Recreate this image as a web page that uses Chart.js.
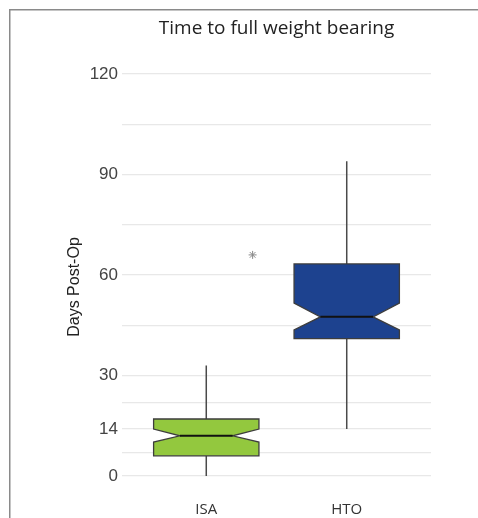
<!DOCTYPE html>
<html><head><meta charset="utf-8">
<script src="https://cdn.jsdelivr.net/npm/chart.js@4.4.1/dist/chart.umd.min.js"></script>
<style>
html,body{margin:0;padding:0;background:#fff;overflow:hidden;}
canvas{display:block;}
</style></head><body>
<canvas id="c" width="478" height="518"></canvas>
<script>
const categories = ['ISA', 'HTO'];
const whiskerLow = [0, 14];
const q1 = [6, 41];
const median = [12, 47.5];
const q3 = [17, 63.3];
const whiskerHigh = [33, 94];
const notchLow = [10.1, 43.6];
const notchHigh = [14, 51.6];
const boxColors = ['#93c83e', '#1d428f'];
const outlierX = [1.33];
const outlierY = [66];
const majorTicks = [0, 14, 30, 60, 90, 120];
const minorTicks = [7, 22, 45, 75, 105];

const boxWidth = 0.75;
const notchWidth = 0.5;

const boxPlugin = {
  id: 'boxplots',
  beforeDraw(chart) {
    const ctx = chart.ctx;
    ctx.save();
    ctx.fillStyle = '#fff';
    ctx.fillRect(0, 0, chart.width, chart.height);
    ctx.strokeStyle = '#8a8a8a';
    ctx.lineWidth = 1.5;
    ctx.beginPath();
    ctx.moveTo(9.75, chart.height);
    ctx.lineTo(9.75, 9.75);
    ctx.lineTo(chart.width, 9.75);
    ctx.stroke();
    ctx.restore();
  },
  beforeDatasetsDraw(chart) {
    const ctx = chart.ctx, xs = chart.scales.x, ys = chart.scales.y;
    categories.forEach((c, i) => {
      const pos = i + 1;
      const L = xs.getPixelForValue(pos - boxWidth / 2);
      const R = xs.getPixelForValue(pos + boxWidth / 2);
      const C = xs.getPixelForValue(pos);
      const inset = (R - L) * (1 - notchWidth) / 2;
      const yQ1 = ys.getPixelForValue(q1[i]), yQ3 = ys.getPixelForValue(q3[i]);
      const yM = ys.getPixelForValue(median[i]);
      const yNL = ys.getPixelForValue(notchLow[i]), yNH = ys.getPixelForValue(notchHigh[i]);
      const yWL = ys.getPixelForValue(whiskerLow[i]), yWH = ys.getPixelForValue(whiskerHigh[i]);
      ctx.save();
      ctx.strokeStyle = '#4a4a4a';
      ctx.lineWidth = 1.5;
      ctx.beginPath();
      ctx.moveTo(C, yQ3); ctx.lineTo(C, yWH);
      ctx.moveTo(C, yQ1); ctx.lineTo(C, yWL);
      ctx.stroke();
      ctx.beginPath();
      ctx.moveTo(L, yQ3); ctx.lineTo(R, yQ3); ctx.lineTo(R, yNH);
      ctx.lineTo(R - inset, yM); ctx.lineTo(R, yNL); ctx.lineTo(R, yQ1);
      ctx.lineTo(L, yQ1); ctx.lineTo(L, yNL); ctx.lineTo(L + inset, yM);
      ctx.lineTo(L, yNH); ctx.closePath();
      ctx.fillStyle = boxColors[i];
      ctx.fill();
      ctx.strokeStyle = '#3d3d3d';
      ctx.lineWidth = 1.3;
      ctx.stroke();
      ctx.beginPath();
      ctx.moveTo(L + inset, yM); ctx.lineTo(R - inset, yM);
      ctx.strokeStyle = '#111';
      ctx.lineWidth = 2;
      ctx.stroke();
      ctx.restore();
    });
  },
  afterDraw(chart) {
    const ctx = chart.ctx;
    ctx.save();
    ctx.translate(75, 287);
    ctx.rotate(-Math.PI / 2);
    ctx.font = '16px "Liberation Sans", Arial, sans-serif';
    ctx.fillStyle = '#222';
    ctx.textAlign = 'center';
    ctx.textBaseline = 'middle';
    ctx.fillText('Days Post-Op', 0, 0);
    ctx.restore();
  }
};

new Chart(document.getElementById('c'), {
  type: 'scatter',
  data: {
    datasets: [{
      data: outlierX.map((x, i) => ({ x: x, y: outlierY[i] })),
      pointStyle: 'star',
      radius: 4,
      borderColor: '#8a8a8a',
      backgroundColor: '#8a8a8a',
      borderWidth: 1
    }]
  },
  options: {
    responsive: false,
    animation: false,
    layout: { padding: { left: 0, right: 47, top: 0, bottom: 0 } },
    plugins: {
      legend: { display: false },
      tooltip: { enabled: false },
      title: {
        display: true,
        fullSize: false,
        text: 'Time to full weight bearing',
        color: '#222',
        font: { family: '"Open Sans", sans-serif', size: 19, weight: 'normal' },
        padding: { top: 17, bottom: 24.2 }
      }
    },
    scales: {
      x: {
        type: 'linear',
        min: 0.4, max: 2.6,
        grid: { display: false, drawTicks: false },
        border: { display: false },
        afterBuildTicks: (s) => { s.ticks = categories.map((c, i) => ({ value: i + 1 })); },
        afterFit: (s) => { s.height = 32; },
        ticks: {
          callback: (v) => categories[v - 1] || '',
          color: '#333',
          font: { family: '"Open Sans", sans-serif', size: 15 },
          padding: 15,
          maxRotation: 0
        }
      },
      y: {
        min: -3, max: 123,
        grid: { color: '#e8e8e8', lineWidth: 1.2, drawTicks: false },
        border: { display: false },
        afterBuildTicks: (s) => { s.ticks = majorTicks.concat(minorTicks).sort((a, b) => a - b).map(v => ({ value: v })); },
        afterFit: (s) => { s.width = 122; },
        ticks: {
          callback: (v) => majorTicks.includes(v) ? String(v) : '',
          color: '#444',
          font: { family: '"Liberation Sans", Arial, sans-serif', size: 17 },
          padding: 4
        }
      }
    }
  },
  plugins: [boxPlugin]
});
</script>
</body></html>
